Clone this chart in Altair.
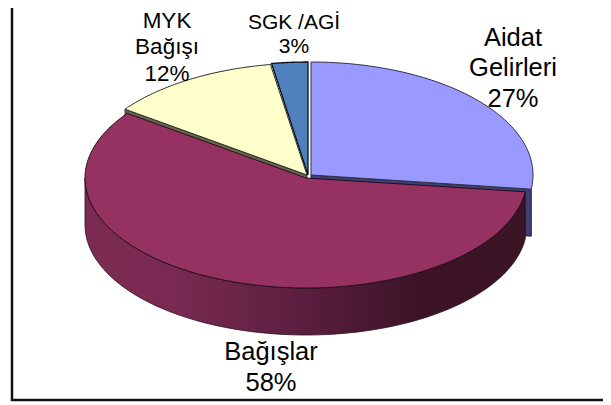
import math
import altair as alt
import pandas as pd

# ---- chart values ----
categories = ["Aidat Gelirleri", "Bağışlar", "MYK Bağışı", "SGK /AGİ"]
shares = [27.0, 58.0, 12.4, 2.6]
label_lines = [["Aidat", "Gelirleri", "27%"], ["Bağışlar", "58%"], ["MYK", "Bağışı", "12%"], ["SGK /AGİ", "3%"]]

# ---- layout ----
W, H = 595, 394
X0, Y0 = 8, 8
DEPTH = 47
geom = {
    "Aidat Gelirleri": dict(cx=311, cy=175, rx=222, ry=113),
    "Bağışlar": dict(cx=306, cy=178, rx=221, ry=110),
    "MYK Bağışı": dict(cx=307, cy=175, rx=225, ry=112),
    "SGK /AGİ": dict(cx=308, cy=175, rx=224, ry=113),
}
label_pos = {
    "Aidat Gelirleri": dict(x=513, y=[46, 76, 107], size=25.5),
    "Bağışlar": dict(x=271, y=[360, 391], size=25.5),
    "MYK Bağışı": dict(x=167, y=[28, 54, 81], size=22.5),
    "SGK /AGİ": dict(x=294, y=[28.5, 53], size=21),
}

sx = alt.Scale(domain=[X0, X0 + W], range=[0, W])
sy = alt.Scale(domain=[Y0, Y0 + H], range=[0, H])


def ang(i):
    return sum(shares[:i]) / sum(shares) * 2 * math.pi


def pt(g, t, dy=0):
    return g["cx"] + g["rx"] * math.sin(t), g["cy"] - g["ry"] * math.cos(t) + dy


def arc(g, a, b, dy=0, n=80):
    return [pt(g, a + (b - a) * k / n, dy) for k in range(n + 1)]


def poly(points, close=True, **mark):
    pts = list(points) + ([points[0]] if close else [])
    df = pd.DataFrame({"x": [p[0] for p in pts], "y": [p[1] for p in pts], "i": range(len(pts))})
    return alt.Chart(df).mark_line(interpolate="linear", **mark).encode(
        x=alt.X("x:Q", scale=sx, axis=None),
        y=alt.Y("y:Q", scale=sy, axis=None),
        order=alt.Order("i:Q"),
    )


def sector(i):
    g = geom[categories[i]]
    return [(g["cx"], g["cy"])] + arc(g, ang(i), ang(i + 1))


layers = []

# frame
layers.append(poly([(12, 8), (12, 400), (606, 400), (606, 8)], close=False,
                   stroke="#111111", strokeWidth=2.5))

# Aidat cut face (behind everything else)
ga = geom["Aidat Gelirleri"]
ea = pt(ga, ang(1))
layers.append(poly([(ga["cx"], ga["cy"]), ea, (ea[0], ea[1] + DEPTH), (ga["cx"], ga["cy"] + DEPTH)],
                   fill="#3f3f73", stroke="#1c1c3a", strokeWidth=1))
layers.append(poly(sector(0), fill="#9999ff", stroke="#333344", strokeWidth=1))

# SGK slice
layers.append(poly(sector(3), fill="#4f81bd", stroke="#0b0b14", strokeWidth=1.3))

# MYK cut face and slice
gm = geom["MYK Bağışı"]
sm = pt(gm, ang(2))
layers.append(poly([(gm["cx"], gm["cy"]), sm, (sm[0], sm[1] + 8), (gm["cx"], gm["cy"] + 8)],
                   fill="#66664f", stroke="#222222", strokeWidth=0.8))
layers.append(poly(sector(2), fill="#ffffcc", stroke="#2b2b2b", strokeWidth=1))

# Bağışlar wall + top
gb = geom["Bağışlar"]
wall = arc(gb, ang(1), 1.5 * math.pi) + arc(gb, 1.5 * math.pi, ang(1), DEPTH)
grad = alt.Gradient(
    gradient="linear", x1=0, x2=1, y1=0, y2=0,
    stops=[
        alt.GradientStop(offset=0, color="#7c2a52"),
        alt.GradientStop(offset=0.2, color="#7a2a52"),
        alt.GradientStop(offset=0.5, color="#5a1e3e"),
        alt.GradientStop(offset=0.75, color="#3d1427"),
        alt.GradientStop(offset=1, color="#3b1425"),
    ],
)
layers.append(poly(wall, fill=grad, stroke="#2a0e1c", strokeWidth=0.8))
layers.append(poly(sector(1), fill="#963262", stroke="#1a0a12", strokeWidth=0.9))

# labels
rows = []
for cat, lines in zip(categories, label_lines):
    p = label_pos[cat]
    for txt, y in zip(lines, p["y"]):
        rows.append({"x": p["x"], "y": y, "t": txt, "s": p["size"]})
labels_df = pd.DataFrame(rows)
labels = []
for size in sorted(labels_df["s"].unique()):
    labels.append(
        alt.Chart(labels_df[labels_df["s"] == size]).mark_text(
            font="Liberation Sans", fontSize=float(size), color="#000000",
            align="center", baseline="alphabetic",
        ).encode(
            x=alt.X("x:Q", scale=sx, axis=None),
            y=alt.Y("y:Q", scale=sy, axis=None),
            text="t:N",
        )
    )

chart = alt.layer(*layers, *labels).properties(
    width=W, height=H, padding=0, autosize=alt.AutoSizeParams(type="none"),
    background="white",
).configure_view(stroke=None)

chart.save("out.html", embed_options={"renderer": "svg", "actions": False})
